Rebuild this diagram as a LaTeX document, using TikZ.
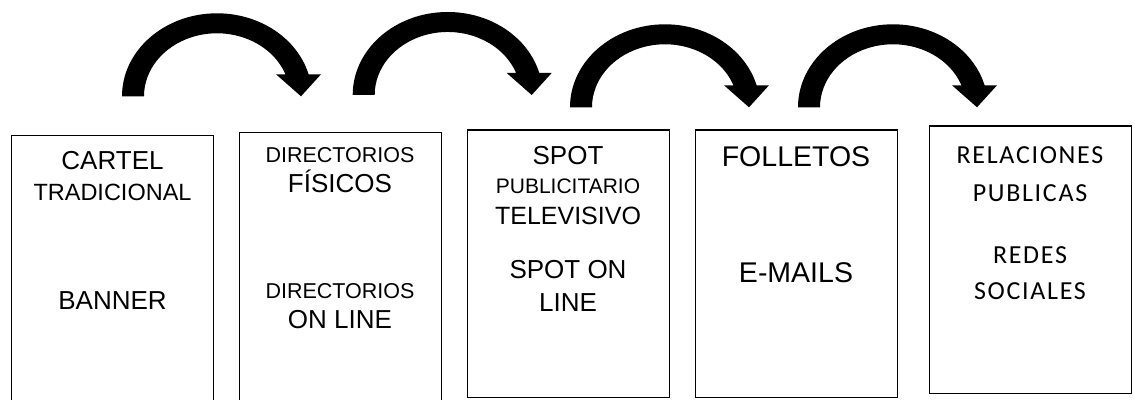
\documentclass[tikz,border=0pt]{standalone}
\usepackage{fontspec}
\setmainfont{Liberation Sans}
\newfontfamily\calibfont[LetterSpace=6.5]{Carlito}
\newcommand\fsz[1]{\fontsize{#1}{#1}\selectfont}

\tikzset{
  panel/.style={draw=black, line width=1.3pt, rectangle, anchor=north west,
    minimum width=202pt, inner sep=0pt},
  lbl/.style={anchor=base, inner sep=0pt},
  big/.style={lbl, font=\fsz{26}},
  small/.style={lbl, font=\fsz{21.5}},
  mid/.style={lbl, font=\fsz{23.5}},
  large/.style={lbl, font=\fsz{28.5}},
  calib/.style={lbl, font=\calibfont\fsz{26}},
  % Block arrow that rises from its left leg and bends down into a head on the right
  curvarrow/.pic={
    \fill[black] (0,0)
      arc[start angle=180, end angle=15.4, x radius=95pt, y radius=83pt]
      -- (199,22) -- (179,0) -- (154,22) -- (163.4,22)
      arc[start angle=20.43, end angle=180, x radius=73pt, y radius=63pt]
      -- cycle;
  }
}

\begin{document}
\begin{tikzpicture}[x=1pt, y=1pt]
\useasboundingbox (0,0) rectangle (1135,399);
\clip (0,0) rectangle (1135,399);

% Panels
\node[panel, minimum height=270pt]   (b1) at (11,264)    {};
\node[panel, minimum height=270pt]   (b2) at (239,267.3) {};
\node[panel, minimum height=267.7pt] (b3) at (467,269.7) {};
\node[panel, minimum height=267.7pt] (b4) at (695,269.7) {};
\node[panel, minimum height=267.7pt] (b5) at (929,273.7) {};

% Curved arrows between the panels
\pic (a1) at (122,302.7) {curvarrow};
\pic (a2) at (352.7,304) {curvarrow};
\pic (a3) at (570,291.7) {curvarrow};
\pic (a4) at (798,291.7) {curvarrow};

% Panel 1
\node[big] (t1a) at (112.5,229)   {CARTEL};
\node[mid] (t1b) at (112.5,198)   {TRADICIONAL};
\node[big] (t1c) at (112.5,89)    {BANNER};

% Panel 2
\node[small] (t2a) at (340,236.3) {DIRECTORIOS};
\node[big]   (t2b) at (340,206.3) {FÍSICOS};
\node[small] (t2c) at (340,100.7) {DIRECTORIOS};
\node[big]   (t2d) at (340,70.7)  {ON LINE};

% Panel 3
\node[big]   (t3a) at (568,234)   {SPOT};
\node[lbl, font=\fsz{21}] (t3b) at (568,205.7) {PUBLICITARIO};
\node[lbl, font=\fsz{25}] (t3c) at (568,174)   {TELEVISIVO};
\node[big]   (t3d) at (568,120.7) {SPOT ON};
\node[big]   (t3e) at (568,87.3)  {LINE};

% Panel 4
\node[large] (t4a) at (796,232.3) {FOLLETOS};
\node[large] (t4b) at (796,116.3) {E-MAILS};

% Panel 5
\node[calib] (t5a) at (1030,235.7) {RELACIONES};
\node[calib] (t5b) at (1030,197.3) {PUBLICAS};
\node[calib] (t5c) at (1030,135.7) {REDES};
\node[calib] (t5d) at (1030,99)    {SOCIALES};
\end{tikzpicture}
\end{document}
